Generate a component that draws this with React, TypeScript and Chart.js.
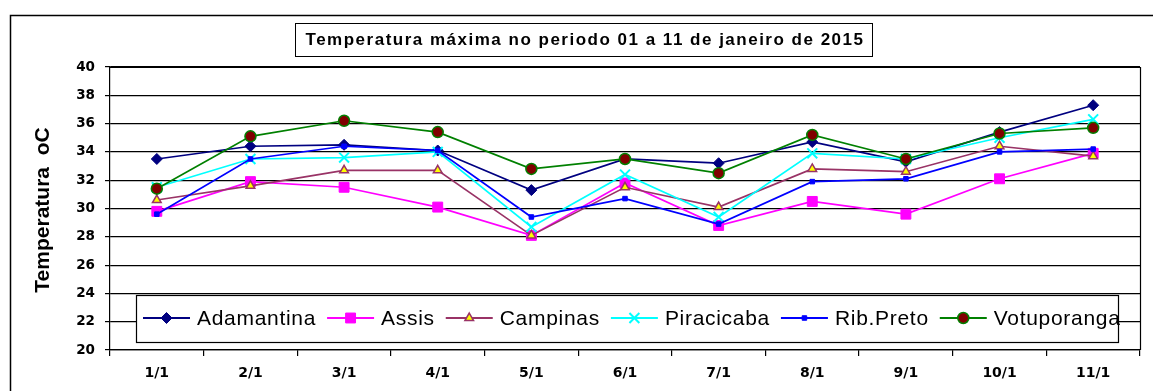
import React, { useEffect, useRef } from 'react';
import { Chart, registerables } from 'chart.js';
import { drawPoint } from 'chart.js/helpers';

Chart.register(...registerables);

// Daily maximum temperatures (°C), 1–11 January 2015
const days = ['1/1', '2/1', '3/1', '4/1', '5/1', '6/1', '7/1', '8/1', '9/1', '10/1', '11/1'];
const adamantina = [33.5, 34.4, 34.5, 34.1, 31.3, 33.5, 33.2, 34.7, 33.3, 35.4, 37.3];
const assis = [29.8, 31.9, 31.5, 30.1, 28.1, 31.8, 28.8, 30.5, 29.6, 32.1, 33.9];
const campinas = [30.6, 31.6, 32.7, 32.7, 28.1, 31.5, 30.1, 32.8, 32.6, 34.4, 33.7];
const piracicaba = [31.5, 33.5, 33.6, 34.0, 28.7, 32.4, 29.4, 33.9, 33.5, 35.0, 36.3];
const ribPreto = [29.6, 33.5, 34.4, 34.1, 29.4, 30.7, 28.9, 31.9, 32.1, 34.0, 34.2];
const votuporanga = [31.4, 35.1, 36.2, 35.4, 32.8, 33.5, 32.5, 35.2, 33.5, 35.3, 35.7];

const yTicksMin = 20;
const yTicksMax = 40;
const yTickStep = 2;

const TITLE = 'Temperatura máxima no periodo 01 a 11 de janeiro de 2015';
const Y_TITLE = 'Temperatura  oC';

type SeriesStyle = {
  label: string;
  data: number[];
  line: string;
  fill: string;
  border: string;
  pointStyle: string;
  radius: number;
  pointBorderWidth: number;
};

const series: SeriesStyle[] = [
  { label: 'Adamantina', data: adamantina, line: '#000080', fill: '#000080', border: '#000080', pointStyle: 'rectRot', radius: 5.5, pointBorderWidth: 1 },
  { label: 'Assis', data: assis, line: '#FF00FF', fill: '#FF00FF', border: '#FF00FF', pointStyle: 'rect', radius: 7, pointBorderWidth: 1 },
  { label: 'Campinas', data: campinas, line: '#993366', fill: '#FFFF00', border: '#993366', pointStyle: 'triangle', radius: 5, pointBorderWidth: 1.5 },
  { label: 'Piracicaba', data: piracicaba, line: '#00FFFF', fill: '#00FFFF', border: '#00FFFF', pointStyle: 'crossRot', radius: 7, pointBorderWidth: 2 },
  { label: 'Rib.Preto', data: ribPreto, line: '#0000FF', fill: '#0000FF', border: '#0000FF', pointStyle: 'rect', radius: 3.2, pointBorderWidth: 1 },
  { label: 'Votuporanga', data: votuporanga, line: '#008000', fill: '#800000', border: '#008000', pointStyle: 'circle', radius: 5.5, pointBorderWidth: 1.5 },
];

const decorations = {
  id: 'decorations',
  beforeDraw(chart: any) {
    const ctx = chart.ctx;
    ctx.save();
    ctx.fillStyle = '#ffffff';
    ctx.fillRect(0, 0, chart.width, chart.height);
    ctx.restore();
  },
  afterDraw(chart: any) {
    const ctx: any = chart.ctx;
    const a = chart.chartArea;
    ctx.save();

    // outer chart frame
    ctx.strokeStyle = '#000';
    ctx.lineWidth = 1.5;
    ctx.strokeRect(10.5, 15.5, 1200, 420);

    // top and right edges of the plot area
    ctx.lineWidth = 1.2;
    ctx.beginPath();
    ctx.moveTo(a.left, a.top + 0.5);
    ctx.lineTo(a.right + 0.5, a.top + 0.5);
    ctx.lineTo(a.right + 0.5, a.bottom);
    ctx.stroke();

    // boxed title
    ctx.lineWidth = 1;
    ctx.fillStyle = '#fff';
    ctx.fillRect(295.5, 23.5, 577, 33);
    ctx.strokeRect(295.5, 23.5, 577, 33);
    ctx.fillStyle = '#000';
    ctx.font = 'bold 17px "Liberation Sans", Arial';
    ctx.letterSpacing = '1.5px';
    ctx.textAlign = 'center';
    ctx.textBaseline = 'middle';
    ctx.fillText(TITLE, 585, 40);
    ctx.letterSpacing = '0px';

    // vertical axis title
    ctx.save();
    ctx.translate(43, 210);
    ctx.rotate(-Math.PI / 2);
    ctx.font = 'bold 21px "Liberation Sans", Arial';
    ctx.fillText(Y_TITLE, 0, 0);
    ctx.restore();

    // legend box inside the plot
    const lx = 136.5, ly = 295.5, lw = 982, lh = 47;
    ctx.fillStyle = '#fff';
    ctx.fillRect(lx, ly, lw, lh);
    ctx.strokeStyle = '#000';
    ctx.lineWidth = 1.2;
    ctx.strokeRect(lx, ly, lw, lh);

    ctx.font = '21px "Liberation Sans", Arial';
    ctx.letterSpacing = '0.7px';
    ctx.textAlign = 'left';
    ctx.textBaseline = 'middle';
    const cy = 318;
    let x = 143;
    series.forEach((s) => {
      ctx.strokeStyle = s.line;
      ctx.lineWidth = 1.8;
      ctx.beginPath();
      ctx.moveTo(x, cy);
      ctx.lineTo(x + 47, cy);
      ctx.stroke();
      ctx.fillStyle = s.fill;
      ctx.strokeStyle = s.border;
      ctx.lineWidth = s.pointBorderWidth;
      drawPoint(ctx, { pointStyle: s.pointStyle as any, radius: s.radius, rotation: 0, borderWidth: s.pointBorderWidth }, x + 23.5, cy);
      ctx.fillStyle = '#000';
      ctx.fillText(s.label, x + 54, cy + 1);
      x += 54 + ctx.measureText(s.label).width + 11;
    });

    ctx.restore();
  },
};

export default function App() {
  const canvasRef = useRef<HTMLCanvasElement>(null);

  useEffect(() => {
    const canvas = canvasRef.current;
    if (!canvas) return;
    const chart = new Chart(canvas, {
      type: 'line',
      data: {
        labels: days,
        datasets: series.map((s, i) => ({
          label: s.label,
          data: s.data,
          borderColor: s.line,
          backgroundColor: s.fill,
          borderWidth: 1.7,
          pointStyle: s.pointStyle as any,
          pointRadius: s.radius,
          pointBackgroundColor: s.fill,
          pointBorderColor: s.border,
          pointBorderWidth: s.pointBorderWidth,
          tension: 0,
          fill: false,
          order: 20 - i,
        })),
      },
      options: {
        responsive: false,
        animation: false,
        devicePixelRatio: 1,
        layout: { padding: { top: 67, right: 13, left: 0, bottom: 0 } },
        plugins: {
          legend: { display: false },
          title: { display: false },
          tooltip: { enabled: false },
        },
        scales: {
          x: {
            offset: true,
            grid: {
              offset: true,
              drawOnChartArea: false,
              drawTicks: true,
              tickLength: 6,
              color: '#000',
              lineWidth: 1.2,
            },
            border: { display: true, color: '#000', width: 1.2 },
            ticks: {
              color: '#000',
              padding: 9,
              font: { family: '"DejaVu Sans"', size: 14, weight: 'bold' },
              maxRotation: 0,
              autoSkip: false,
            },
            afterFit: (scale: any) => {
              scale.height = 41;
            },
          },
          y: {
            min: yTicksMin,
            max: yTicksMax,
            ticks: {
              stepSize: yTickStep,
              color: '#000',
              padding: 10,
              font: { family: '"DejaVu Sans"', size: 13.5, weight: 'bold' },
            },
            grid: {
              color: '#000',
              lineWidth: 1.2,
              drawTicks: true,
              tickLength: 5,
            },
            border: { display: true, color: '#000', width: 1.2 },
            afterFit: (scale: any) => {
              scale.width = 110;
            },
          },
        },
      },
      plugins: [decorations],
    });
    return () => chart.destroy();
  }, []);

  return (
    <div style={{ position: 'absolute', left: 0, top: 0, width: 1153, height: 391 }}>
      <canvas ref={canvasRef} width={1153} height={391} style={{ display: 'block' }} />
    </div>
  );
}
